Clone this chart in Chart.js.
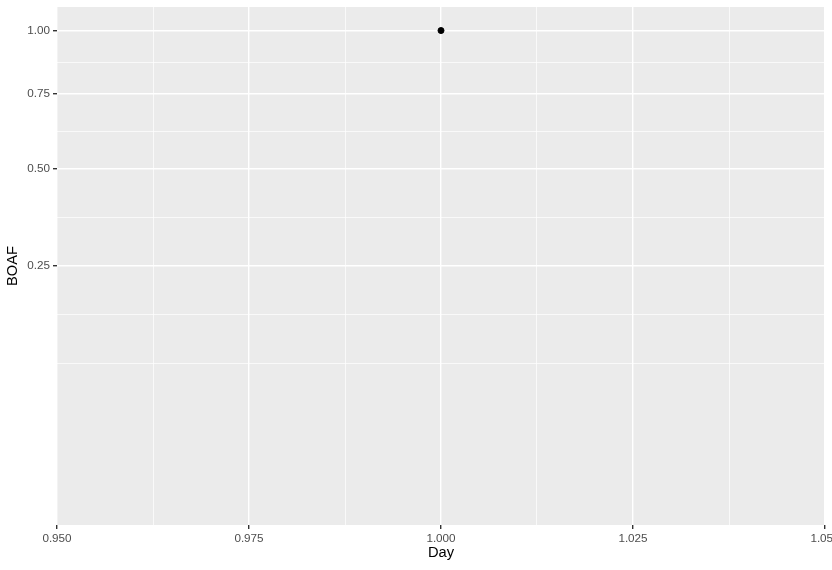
<!DOCTYPE html>
<html lang="en">
<head>
    <meta charset="UTF-8">
    <title>BOAF by Day</title>
    <script src="https://cdn.jsdelivr.net/npm/chart.js"></script>
    <style>
        html, body { margin: 0; padding: 0; background: #ffffff; }
        #wrap { width: 832px; height: 570px; }
    </style>
</head>
<body>
<div id="wrap"><canvas id="chart" width="832" height="570"></canvas></div>
<script>
    // data
    const days = [1];
    const boaf = [1];

    // axis breaks (x linear, y on a square-root scale)
    const xBreaks = [0.95, 0.975, 1, 1.025, 1.05];
    const xMinorBreaks = [0.9625, 0.9875, 1.0125, 1.0375];
    const yBreaks = [0.25, 0.5, 0.75, 1];
    const yLimits = [0, 1];

    const sqrtOf = v => Math.sqrt(v);

    // minor breaks like ggplot: midpoints in transformed space, plus one step below
    function sqrtMinorBreaks() {
        const b = yBreaks.map(sqrtOf);
        const step = b[1] - b[0];
        const all = [b[0] - step].concat(b);
        const out = [all[0]];
        for (let i = 0; i < all.length - 1; i++) out.push((all[i] + all[i + 1]) / 2);
        return out;
    }

    const panelBg = {
        id: 'panelBg',
        beforeDraw(chart) {
            const {ctx, chartArea: a} = chart;
            ctx.save();
            ctx.fillStyle = '#EBEBEB';
            ctx.fillRect(a.left, a.top, a.right - a.left, a.bottom - a.top);
            ctx.restore();
        }
    };

    const gridWidth = c => (c.tick && c.tick.minor ? 0.7 : 1.4);
    const tickColor = c => (c.tick && c.tick.minor ? 'rgba(0,0,0,0)' : '#333333');

    const ySpan = sqrtOf(yLimits[1]) - sqrtOf(yLimits[0]);

    new Chart(document.getElementById('chart'), {
        type: 'scatter',
        data: {
            datasets: [{
                data: days.map((d, i) => ({x: d, y: sqrtOf(boaf[i])})),
                backgroundColor: '#000000',
                borderColor: '#000000',
                pointRadius: 3,
                pointHoverRadius: 3
            }]
        },
        options: {
            responsive: false,
            animation: false,
            devicePixelRatio: 1,
            layout: { padding: { top: 7, right: 7, left: 0, bottom: 0 } },
            plugins: { legend: { display: false }, tooltip: { enabled: false } },
            scales: {
                x: {
                    type: 'linear',
                    min: 0.95,
                    max: 1.05,
                    afterBuildTicks: s => {
                        s.ticks = xBreaks.map(v => ({value: v}))
                            .concat(xMinorBreaks.map(v => ({value: v, minor: true})));
                    },
                    afterFit: s => { s.height = 45; s.paddingLeft = 0; s.paddingRight = 0; },
                    ticks: {
                        autoSkip: false,
                        maxRotation: 0,
                        padding: 3,
                        color: '#4D4D4D',
                        font: { family: 'Liberation Sans', size: 11.7 },
                        callback: function (v, i, t) { return t[i].minor ? '' : v.toFixed(3); }
                    },
                    grid: {
                        color: '#FFFFFF',
                        lineWidth: gridWidth,
                        drawTicks: true,
                        tickLength: 4,
                        tickColor: tickColor,
                        tickWidth: 1.4
                    },
                    border: { display: false },
                    title: {
                        display: true,
                        text: 'Day',
                        color: '#000000',
                        font: { family: 'Liberation Sans', size: 14.7 },
                        padding: { top: 0, bottom: 8 }
                    }
                },
                y: {
                    type: 'linear',
                    min: sqrtOf(yLimits[0]) - 0.05 * ySpan,
                    max: sqrtOf(yLimits[1]) + 0.05 * ySpan,
                    afterBuildTicks: s => {
                        s.ticks = yBreaks.map(v => ({value: sqrtOf(v), label: v}))
                            .concat(sqrtMinorBreaks().map(v => ({value: v, minor: true})));
                    },
                    afterFit: s => { s.width = 57; s.paddingTop = 0; s.paddingBottom = 0; },
                    ticks: {
                        autoSkip: false,
                        padding: 3,
                        color: '#4D4D4D',
                        font: { family: 'Liberation Sans', size: 11.7 },
                        callback: function (v, i, t) { return t[i].minor ? '' : t[i].label.toFixed(2); }
                    },
                    grid: {
                        color: '#FFFFFF',
                        lineWidth: gridWidth,
                        drawTicks: true,
                        tickLength: 4,
                        tickColor: tickColor,
                        tickWidth: 1.4
                    },
                    border: { display: false },
                    title: {
                        display: true,
                        text: 'BOAF',
                        color: '#000000',
                        font: { family: 'Liberation Sans', size: 14.7 },
                        padding: { top: 4, bottom: 0 }
                    }
                }
            }
        },
        plugins: [panelBg]
    });
</script>
</body>
</html>
